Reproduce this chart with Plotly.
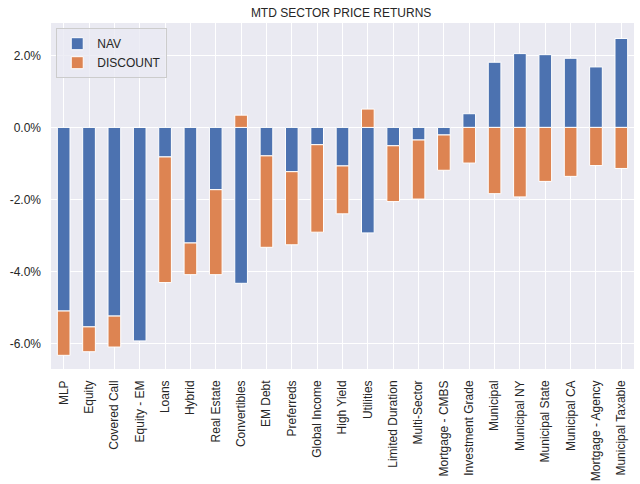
import plotly.graph_objects as go

categories = ["MLP", "Equity", "Covered Call", "Equity - EM", "Loans", "Hybrid",
              "Real Estate", "Convertibles", "EM Debt", "Preferreds", "Global Income",
              "High Yield", "Utilities", "Limited Duration", "Multi-Sector",
              "Mortgage - CMBS", "Investment Grade", "Municipal", "Municipal NY",
              "Municipal State", "Municipal CA", "Mortgage - Agency", "Municipal Taxable"]
nav = [-5.10, -5.54, -5.24, -5.93, -0.82, -3.21, -1.73, -4.33, -0.79, -1.23, -0.48,
       -1.07, -2.93, -0.51, -0.35, -0.21, 0.38, 1.81, 2.05, 2.02, 1.92, 1.68, 2.47]
discount = [-1.23, -0.69, -0.86, 0.0, -3.49, -0.88, -2.36, 0.34, -2.54, -2.03, -2.43,
            -1.33, 0.51, -1.55, -1.64, -0.98, -0.99, -1.84, -1.93, -1.50, -1.36, -1.06, -1.14]
y_ticks = [-6, -4, -2, 0, 2]

fig = go.Figure()
fig.add_bar(x=categories, y=nav, name="NAV", marker_color="#4C72B0",
            marker_line_color="white", marker_line_width=1, width=0.5)
fig.add_bar(x=categories, y=discount, name="DISCOUNT", marker_color="#DD8452",
            marker_line_color="white", marker_line_width=1, width=0.5)

fig.update_layout(
    barmode="relative",
    width=640, height=484,
    margin=dict(l=51, r=6, t=23, b=115, autoexpand=False),
    paper_bgcolor="white",
    plot_bgcolor="#EAEAF2",
    font=dict(family="Liberation Sans, Arial, sans-serif", size=12, color="#262626"),
    title=dict(text="MTD SECTOR PRICE RETURNS", x=0.533, xanchor="center", y=0.974,
               yanchor="middle", font=dict(size=12, color="#262626")),
    legend=dict(x=0.009, y=0.985, xanchor="left", yanchor="top",
                bgcolor="rgba(234,234,242,0.8)", bordercolor="#CCCCCC", borderwidth=1,
                font=dict(size=12), tracegroupgap=0, itemwidth=30),
    showlegend=True,
)
fig.update_xaxes(showgrid=True, gridcolor="white", gridwidth=1, tickangle=-90,
                 ticks="", zeroline=False, range=[-0.5, len(categories) - 0.5],
                 tickfont=dict(size=12), ticklabelstandoff=8, automargin=False)
fig.update_yaxes(showgrid=True, gridcolor="white", gridwidth=1, range=[-6.71, 2.90],
                 tickvals=y_ticks, ticktext=[f"{v:.1f}%" for v in y_ticks],
                 zeroline=False, ticks="", tickfont=dict(size=12),
                 ticklabelstandoff=9, automargin=False)

fig.write_html("out.html", config={"displayModeBar": False},
               post_script="document.body.style.margin='0';")
